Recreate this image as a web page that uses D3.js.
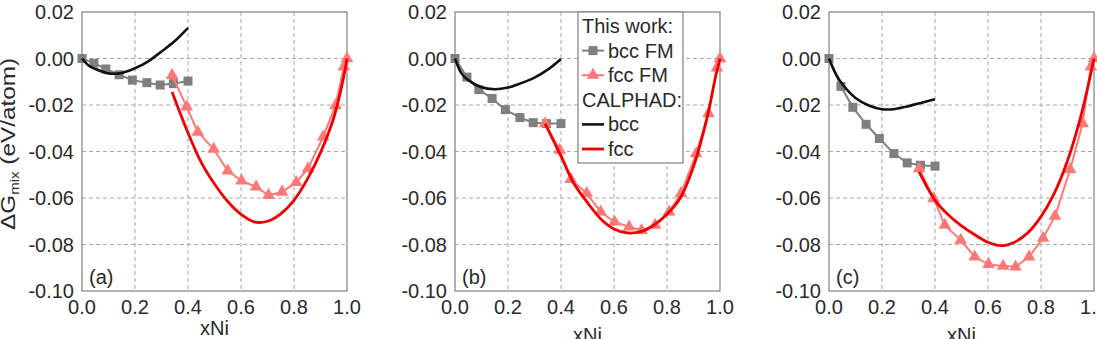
<!DOCTYPE html>
<html>
<head>
<meta charset="utf-8">
<script src="https://cdn.jsdelivr.net/npm/d3@7"></script>
<style>
  body { margin: 0; background: #fff; }
  svg { display: block; font-family: "Liberation Sans", Arial, sans-serif; }
</style>
</head>
<body>
<script>
// tick values
const xTicks = [0, 0.2, 0.4, 0.6, 0.8, 1.0];
const yTicks = [0.02, 0.00, -0.02, -0.04, -0.06, -0.08, -0.10];
const panelNames = ["(a)", "(b)", "(c)"];

// This work: bcc FM (squares)
const bccFmX = [0, 0.045, 0.09, 0.14, 0.19, 0.245, 0.295, 0.345, 0.4];
const bccFmA = [0, -0.002, -0.0045, -0.007, -0.0093, -0.0104, -0.0114, -0.0108, -0.0097];
const bccFmB = [0, -0.008, -0.0134, -0.0172, -0.022, -0.0254, -0.0276, -0.028, -0.028];
const bccFmC = [0, -0.012, -0.021, -0.0283, -0.0344, -0.0409, -0.0449, -0.0459, -0.0463];

// This work: fcc FM (triangles)
const fccFmX = [0.34, 0.395, 0.437, 0.497, 0.55, 0.602, 0.657, 0.704, 0.755, 0.808, 0.853, 0.91, 0.957, 0.988, 1.0];
const fccFmA = [-0.0072, -0.0208, -0.0316, -0.039, -0.0483, -0.0526, -0.0552, -0.0588, -0.0574, -0.0533, -0.0473, -0.0337, -0.0201, -0.0036, 0.0];
const fccFmB = [-0.028, -0.0394, -0.052, -0.058, -0.066, -0.0703, -0.0724, -0.0739, -0.0717, -0.066, -0.058, -0.0409, -0.0237, -0.004, 0.0];
const fccFmC = [-0.0473, -0.0602, -0.0717, -0.0781, -0.0853, -0.0885, -0.0893, -0.0896, -0.0853, -0.0772, -0.0678, -0.0477, -0.028, -0.0036, 0.0];

// CALPHAD bcc
const calBccX = [0, 0.025, 0.05, 0.1, 0.15, 0.2, 0.25, 0.3, 0.35, 0.4];
const calBccA = [0, -0.003, -0.0045, -0.0064, -0.0062, -0.0042, -0.0012, 0.003, 0.0075, 0.0132];
const calBccB = [0, -0.0065, -0.0093, -0.0124, -0.0132, -0.0125, -0.0106, -0.0082, -0.0048, -0.0002];
const calBccC = [0, -0.0065, -0.011, -0.017, -0.0202, -0.0218, -0.0217, -0.0205, -0.019, -0.0175];

// CALPHAD fcc
const calFccX = [0.34, 0.4, 0.45, 0.5, 0.55, 0.6, 0.65, 0.7, 0.75, 0.8, 0.85, 0.9, 0.95, 0.985, 1.0];
const calFccA = [-0.0144, -0.032, -0.0447, -0.054, -0.0615, -0.067, -0.0703, -0.070, -0.0668, -0.061, -0.052, -0.0405, -0.0255, -0.0093, 0.0];
const calFccB = [-0.028, -0.042, -0.054, -0.062, -0.069, -0.0733, -0.075, -0.0745, -0.0717, -0.067, -0.060, -0.0465, -0.026, -0.007, 0.0];
const calFccC = [-0.0488, -0.061, -0.0672, -0.072, -0.0758, -0.079, -0.0805, -0.079, -0.075, -0.068, -0.058, -0.044, -0.025, -0.008, 0.0];

const legendItems = ["This work:", "bcc FM", "fcc FM", "CALPHAD:", "bcc", "fcc"];

const W = 1097, H = 339;
const lefts = [82, 455, 829];
const pw = 265, plotTop = 12, plotBottom = 291;

const zip = (xs, ys) => xs.map((x, i) => [x, ys[i]]);
const panels = [
  { bccFm: bccFmA, fccFm: fccFmA, calBcc: calBccA, calFcc: calFccA, xlabY: 335 },
  { bccFm: bccFmB, fccFm: fccFmB, calBcc: calBccB, calFcc: calFccB, xlabY: 342 },
  { bccFm: bccFmC, fccFm: fccFmC, calBcc: calBccC, calFcc: calFccC, xlabY: 342 }
];

// plain hyphen for negative numbers, as in the figure
const fmt = d3.formatLocale({ decimal: ".", thousands: ",", grouping: [3], currency: ["", ""], minus: "-" });

const svg = d3.select("body").append("svg")
  .attr("width", W).attr("height", H);

const textCol = "#2a2a2a";
const grayCol = "#7f7f7f";
const pinkCol = "#ff7878";
const redCol = "#f00000";

panels.forEach((p, i) => {
  const x = d3.scaleLinear().domain([0, 1]).range([lefts[i], lefts[i] + pw]);
  const y = d3.scaleLinear().domain([-0.10, 0.02]).range([plotBottom, plotTop]);
  const g = svg.append("g");

  // grid
  g.selectAll(".gx").data(xTicks.slice(1, -1)).enter().append("line")
    .attr("x1", d => x(d)).attr("x2", d => x(d))
    .attr("y1", plotTop).attr("y2", plotBottom)
    .attr("stroke", "#a8a8a8").attr("stroke-dasharray", "4,3");
  g.selectAll(".gy").data(yTicks.slice(1, -1)).enter().append("line")
    .attr("y1", d => y(d)).attr("y2", d => y(d))
    .attr("x1", lefts[i]).attr("x2", lefts[i] + pw)
    .attr("stroke", "#a8a8a8").attr("stroke-dasharray", "4,3");

  // frame
  g.append("rect")
    .attr("x", lefts[i]).attr("y", plotTop)
    .attr("width", pw).attr("height", plotBottom - plotTop)
    .attr("fill", "none").attr("stroke", "#8a8a8a").attr("stroke-width", 1.3);

  // tick labels
  g.selectAll(".ty").data(yTicks).enter().append("text")
    .attr("x", lefts[i] - 8).attr("y", d => y(d))
    .attr("dy", "0.36em")
    .attr("text-anchor", "end")
    .attr("font-size", 20).attr("fill", textCol)
    .text(d => fmt.format(".2f")(d));
  g.selectAll(".tx").data(xTicks).enter().append("text")
    .attr("x", d => x(d)).attr("y", 314)
    .attr("text-anchor", "middle")
    .attr("font-size", 20).attr("fill", textCol)
    .text(d => fmt.format(".1f")(d));

  g.append("text")
    .attr("x", lefts[i] + pw / 2).attr("y", p.xlabY)
    .attr("text-anchor", "middle")
    .attr("font-size", 20).attr("fill", textCol)
    .text("xNi");

  g.append("text")
    .attr("x", lefts[i] + 7).attr("y", 284)
    .attr("font-size", 20).attr("fill", textCol)
    .text(panelNames[i]);

  const straight = d3.line().x(d => x(d[0])).y(d => y(d[1]));
  const smooth = d3.line().x(d => x(d[0])).y(d => y(d[1])).curve(d3.curveCatmullRom);

  // bcc FM
  const bcc = zip(bccFmX, p.bccFm);
  g.append("path").attr("d", straight(bcc))
    .attr("fill", "none").attr("stroke", grayCol).attr("stroke-width", 2);
  g.selectAll(".sq").data(bcc).enter().append("rect")
    .attr("x", d => x(d[0]) - 4.5).attr("y", d => y(d[1]) - 4.5)
    .attr("width", 9).attr("height", 9).attr("fill", grayCol);

  // fcc FM
  const fcc = zip(fccFmX, p.fccFm);
  g.append("path").attr("d", straight(fcc))
    .attr("fill", "none").attr("stroke", pinkCol).attr("stroke-width", 2);
  g.selectAll(".tri").data(fcc).enter().append("path")
    .attr("d", d3.symbol(d3.symbolTriangle, 70))
    .attr("transform", d => `translate(${x(d[0])},${y(d[1])})`)
    .attr("fill", pinkCol);

  // CALPHAD
  g.append("path").attr("d", smooth(zip(calBccX, p.calBcc)))
    .attr("fill", "none").attr("stroke", "#111").attr("stroke-width", 2.6);
  g.append("path").attr("d", smooth(zip(calFccX, p.calFcc)))
    .attr("fill", "none").attr("stroke", redCol).attr("stroke-width", 2.8);
});

// y axis title
svg.append("text")
  .attr("transform", "translate(15,144) rotate(-90)")
  .attr("text-anchor", "middle")
  .attr("font-size", 21).attr("fill", textCol)
  .attr("textLength", 172).attr("lengthAdjust", "spacingAndGlyphs")
  .call(t => {
    t.append("tspan").text("\u0394G");
    t.append("tspan").attr("font-size", 13).attr("dy", 4).text("mix");
    t.append("tspan").attr("dy", -4).text(" (eV/atom)");
  });

// legend in panel (b)
const lg = svg.append("g");
lg.append("rect")
  .attr("x", 578).attr("y", plotTop).attr("width", 105).attr("height", 151)
  .attr("fill", "#fff").attr("stroke", "#8a8a8a").attr("stroke-width", 1.3);
const rowY = d3.scalePoint().domain(legendItems).range([26, 149]);
legendItems.forEach(name => {
  const cy = rowY(name);
  const header = name.endsWith(":");
  lg.append("text")
    .attr("x", header ? 582 : 608).attr("y", cy).attr("dy", "0.35em")
    .attr("font-size", 20).attr("fill", textCol).text(name);
});
const sx1 = 582, sx2 = 604, smid = 593;
lg.append("line").attr("x1", sx1).attr("x2", sx2)
  .attr("y1", rowY("bcc FM")).attr("y2", rowY("bcc FM"))
  .attr("stroke", grayCol).attr("stroke-width", 2);
lg.append("rect").attr("x", smid - 4.5).attr("y", rowY("bcc FM") - 4.5)
  .attr("width", 9).attr("height", 9).attr("fill", grayCol);
lg.append("line").attr("x1", sx1).attr("x2", sx2)
  .attr("y1", rowY("fcc FM")).attr("y2", rowY("fcc FM"))
  .attr("stroke", pinkCol).attr("stroke-width", 2);
lg.append("path").attr("d", d3.symbol(d3.symbolTriangle, 70))
  .attr("transform", `translate(${smid},${rowY("fcc FM")})`).attr("fill", pinkCol);
lg.append("line").attr("x1", sx1).attr("x2", sx2)
  .attr("y1", rowY("bcc")).attr("y2", rowY("bcc"))
  .attr("stroke", "#111").attr("stroke-width", 2.6);
lg.append("line").attr("x1", sx1).attr("x2", sx2)
  .attr("y1", rowY("fcc")).attr("y2", rowY("fcc"))
  .attr("stroke", redCol).attr("stroke-width", 2.8);
</script>
</body>
</html>
